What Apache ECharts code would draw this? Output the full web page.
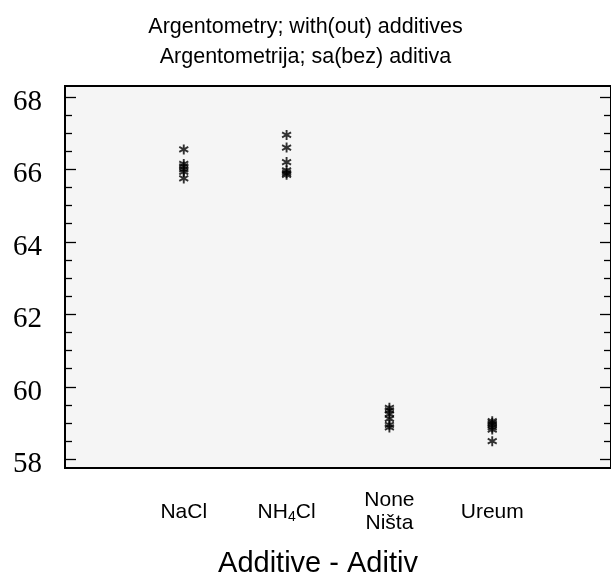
<!DOCTYPE html>
<html><head><meta charset="utf-8">
<script src="https://cdn.jsdelivr.net/npm/echarts@6/dist/echarts.min.js"></script>
<style>html,body{margin:0;padding:0;background:#fff}#c{width:611px;height:581px}</style>
</head><body><div id="c"></div>
<script>
const categories = ['NaCl', 'NH4Cl', 'None\nNišta', 'Ureum'];
const categoryPos = [1, 2, 3, 4];
const naclValues = [66.55, 66.15, 66.08, 66.0, 65.93, 65.75];
const nh4clValues = [66.95, 66.6, 66.2, 65.97, 65.9, 65.85];
const noneValues = [59.42, 59.35, 59.25, 59.12, 58.95, 58.88];
const ureumValues = [59.05, 59.0, 58.95, 58.88, 58.82, 58.5];
const yMajorTicks = [58, 60, 62, 64, 66, 68];
const yMinorTicks = [58.5, 59, 59.5, 60.5, 61, 61.5, 62.5, 63, 63.5, 64.5, 65, 65.5, 66.5, 67, 67.5];
const titleLines = ['Argentometry; with(out) additives', 'Argentometrija; sa(bez) aditiva'];
const xAxisTitle = 'Additive - Aditiv';

const groups = [naclValues, nh4clValues, noneValues, ureumValues];
const points = [];
groups.forEach((g, i) => g.forEach(v => points.push([categoryPos[i], v])));

const Y_MIN = 57.76, Y_MAX = 68.3;
const star = 'path://M0,-5L0,5M-4.3,-2.5L4.3,2.5M-4.3,2.5L4.3,-2.5';
function yAxis(pos, ticks, len, withLine, withLabel) {
  return {
    type: 'value', position: pos, min: Y_MIN, max: Y_MAX,
    splitLine: {show: false},
    axisLine: {show: withLine, onZero: false, lineStyle: {color: '#000', width: 2}},
    axisTick: {show: true, inside: true, length: len, customValues: ticks, lineStyle: {color: '#000', width: 1.3}},
    axisLabel: withLabel ? {show: true, customValues: ticks, fontFamily: 'Liberation Serif', fontSize: 29, color: '#000', margin: 23, verticalAlign: 'top', lineHeight: 11} : {show: false}
  };
}
const chart = echarts.init(document.getElementById('c'), null, {renderer: 'canvas'});
chart.setOption({
  backgroundColor: '#fff',
  animation: false,
  title: [
    {text: titleLines.join('\n'), left: 'center', top: 7, textStyle: {fontFamily: 'Liberation Sans', fontSize: 21.5, fontWeight: 'normal', color: '#000', lineHeight: 30}},
    {text: xAxisTitle, left: 313, top: 544, textAlign: 'center', textStyle: {fontFamily: 'Liberation Sans', fontSize: 29, fontWeight: 'normal', color: '#000'}}
  ],
  grid: {left: 65, right: -1, top: 86, bottom: 113, show: true, backgroundColor: '#f5f5f5', borderColor: '#000', borderWidth: 2, containLabel: false},
  xAxis: {
    type: 'value', min: -0.155, max: 5.155,
    splitLine: {show: false},
    axisLine: {show: true, onZero: false, lineStyle: {color: '#000', width: 2}},
    axisTick: {show: false},
    axisLabel: {
      show: true, customValues: categoryPos, margin: 44, verticalAlign: 'middle',
      fontFamily: 'Liberation Sans', fontSize: 21, color: '#000', lineHeight: 23,
      formatter: v => {
        const s = categories[categoryPos.indexOf(v)];
        return s === 'NH4Cl' ? '{a|NH}{s|4}{a|Cl}' : s;
      },
      rich: {
        a: {fontFamily: 'Liberation Sans', fontSize: 21, color: '#000'},
        s: {fontFamily: 'Liberation Sans', fontSize: 14, color: '#000', padding: [10, 0, 0, 0]}
      }
    }
  },
  yAxis: [
    yAxis('left', yMajorTicks, 11, true, true),
    yAxis('left', yMinorTicks, 7, false, false),
    yAxis('right', yMajorTicks, 11, true, false),
    yAxis('right', yMinorTicks, 7, false, false)
  ],
  series: [{
    type: 'scatter', data: points, symbol: star, symbolSize: [9, 10],
    itemStyle: {color: 'rgba(0,0,0,0)', borderColor: '#000', borderWidth: 2}
  }]
});
</script></body></html>
